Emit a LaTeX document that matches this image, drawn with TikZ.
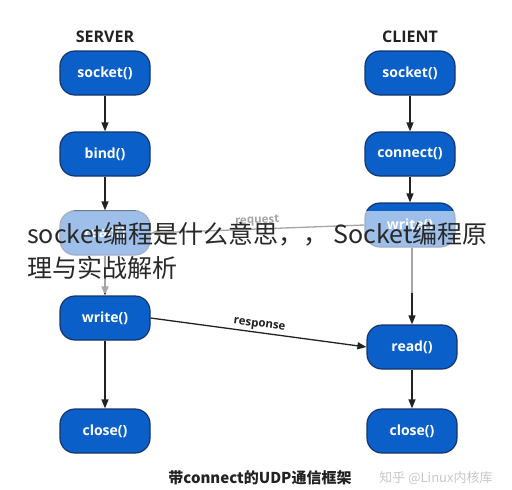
\documentclass[tikz,border=0pt]{standalone}
\usepackage{fontspec}
\setmainfont{Open Sans}
\newfontfamily\cjk{Noto Sans CJK SC}
\usetikzlibrary{arrows.meta}
\definecolor{nodeblue}{RGB}{10,96,200}
\definecolor{nodeedge}{RGB}{22,52,110}
\definecolor{ink}{RGB}{34,34,34}
\definecolor{wmark}{RGB}{200,200,200}
\begin{document}
\begin{tikzpicture}[x=1pt,y=-1pt,
  fn/.style={draw=nodeedge, line width=1.2pt, fill=nodeblue, rounded corners=15pt,
    minimum width=90pt, minimum height=44pt, text=white,
    font=\fontsize{14}{16}\selectfont\bfseries, inner sep=0pt},
  ttl/.style={font=\fontsize{16}{18}\selectfont\bfseries, text=ink},
  arr/.style={draw=ink, line width=1.3pt, -{Triangle[length=9pt,width=7pt]}},
  lbl/.style={font=\fontsize{11.5}{13}\selectfont\bfseries, text=ink, inner sep=2pt},
]
\fill[white] (0,0) rectangle (512,490);
\useasboundingbox (0,0) rectangle (512,490);

% titles
\node[ttl] (st) at (105,37) {SERVER};
\node[ttl] (ct) at (410,37) {CLIENT};

% server column
\node[fn] (ss) at (105,73) {socket()};
\node[fn] (sb) at (105,154) {bind()};
\node[fn] (sr) at (105,233) {read()};
\node[fn] (sw) at (105,318) {write()};
\node[fn] (sc) at (105,431) {close()};

% client column
\node[fn] (cs) at (410,73) {socket()};
\node[fn] (cc) at (410,154) {connect()};
\node[fn] (cw) at (410,225) {write()};
\node[fn] (cr) at (412,347) {read()};
\node[fn] (cl) at (412,431) {close()};

% vertical arrows
\draw[arr] (ss) -- (sb);
\draw[arr] (sb) -- (sr);
\draw[arr] (sr) -- (sw);
\draw[arr] (sw) -- (sc);
\draw[arr] (cs) -- (cc);
\draw[arr] (cc) -- (cw);
\draw[arr] (cw.south -| cr.north) -- (cr);
\draw[arr] (cr) -- (cl);

% cross arrows
\draw[arr] (cw.west) -- node[lbl, above, sloped] {request} (sr.east);
\draw[arr] (sw.east) -- node[lbl, above, sloped] {response} (cr.west);

% overlay
\fill[white, opacity=0.6] (20,211) rectangle (505,293);
\node[anchor=base west, inner sep=0pt, text={rgb,255:red,40;green,40;blue,40},
  font=\cjk\fontsize{25}{30}\selectfont] (ov1) at (27,243)
  {socket编程是什么意思，， Socket编程原};
\node[anchor=base west, inner sep=0pt, text={rgb,255:red,40;green,40;blue,40},
  font=\cjk\fontsize{25}{30}\selectfont] (ov2) at (27,277)
  {理与实战解析};

% caption and watermark
\node[font=\cjk\fontsize{15}{17}\selectfont\bfseries, text=ink] (cap) at (260,478)
  {带connect的UDP通信框架};
\node[font=\cjk\fontsize{13}{15}\selectfont, text=wmark] (wm) at (436,478)
  {知乎 @Linux内核库};
\end{tikzpicture}
\end{document}
